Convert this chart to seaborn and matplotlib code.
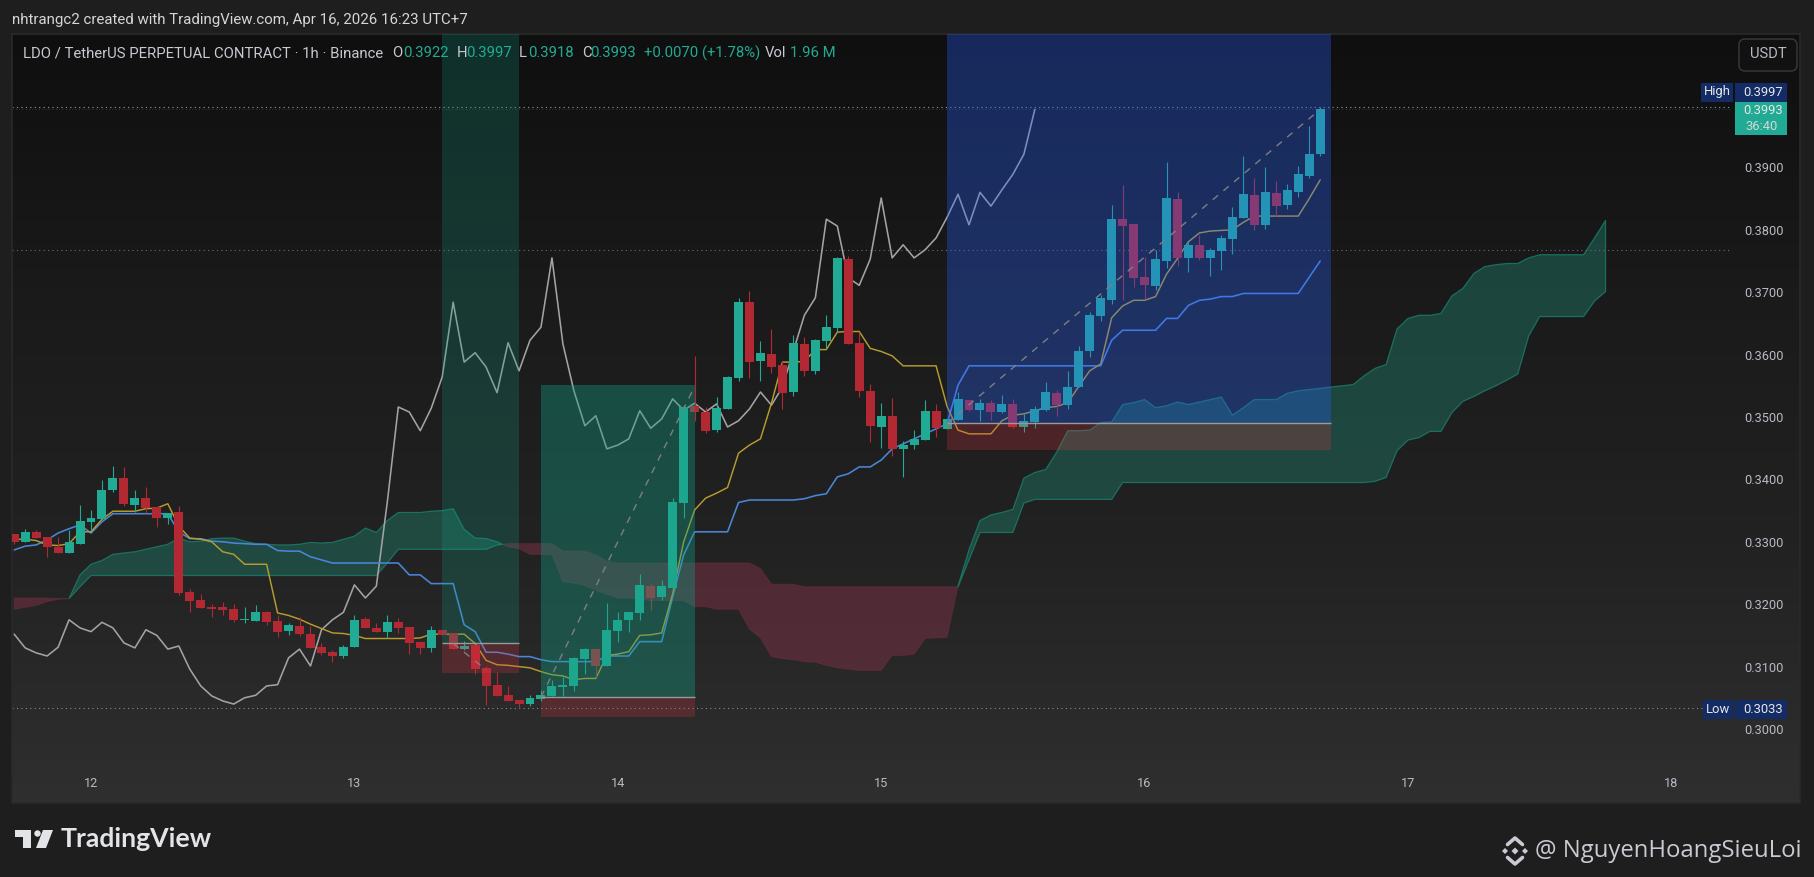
import numpy as np
import seaborn as sns
import matplotlib
matplotlib.use('Agg')
import matplotlib.pyplot as plt
from matplotlib.lines import Line2D
from matplotlib.patches import Circle, Polygon, Rectangle, FancyBboxPatch

# hourly candles, x is hours counted from the "12" day tick
hours = np.arange(-7, 113)
opens = [.3313, .3299, .3316, .3307, .3292, .3282, .3297, .3332, .3336, .3383, .3402, .3359, .3370, .3355, .3338,
         .3348, .3220, .3207, .3196, .3196, .3192, .3175, .3173, .3188, .3173, .3157, .3165, .3152, .3131, .3123,
         .3117, .3131, .3176, .3162, .3156, .3171, .3163, .3139, .3130, .3159, .3154, .3128, .3135, .3098, .3071,
         .3054, .3047, .3040, .3048, .3053, .3067, .3069, .3112, .3128, .3101, .3157, .3175, .3186, .3229, .3212,
         .3226, .3362, .3518, .3508, .3479, .3513, .3563, .3684, .3590, .3601, .3583, .3540, .3617, .3574, .3622,
         .3643, .3753, .3619, .3542, .3484, .3502, .3449, .3455, .3463, .3510, .3481, .3495, .3527, .3511, .3522,
         .3508, .3521, .3484, .3492, .3511, .3538, .3519, .3548, .3606, .3662, .3687, .3817, .3809, .3724, .3710,
         .3750, .3849, .3755, .3776, .3755, .3766, .3785, .3819, .3856, .3808, .3859, .3840, .3860, .3886, .3922]
highs = [.3313, .3320, .3319, .3307, .3308, .3319, .3359, .3351, .3399, .3422, .3420, .3383, .3388, .3355, .3346,
         .3357, .3224, .3216, .3200, .3204, .3200, .3196, .3199, .3189, .3183, .3170, .3180, .3165, .3138, .3127,
         .3135, .3183, .3180, .3170, .3183, .3178, .3163, .3139, .3165, .3159, .3154, .3141, .3135, .3101, .3091,
         .3069, .3047, .3054, .3062, .3079, .3083, .3116, .3130, .3128, .3202, .3187, .3187, .3248, .3232, .3239,
         .3370, .3519, .3598, .3516, .3532, .3566, .3691, .3702, .3622, .3641, .3590, .3631, .3628, .3625, .3664,
         .3756, .3758, .3636, .3553, .3522, .3531, .3462, .3479, .3527, .3521, .3497, .3540, .3527, .3529, .3527,
         .3535, .3529, .3505, .3518, .3556, .3543, .3574, .3614, .3668, .3695, .3840, .3872, .3809, .3756, .3768,
         .3909, .3861, .3782, .3792, .3771, .3792, .3836, .3918, .3883, .3901, .3878, .3873, .3902, .3966, .3997]
lows = [.3297, .3299, .3306, .3276, .3282, .3282, .3297, .3319, .3336, .3380, .3357, .3348, .3346, .3324, .3329,
        .3214, .3188, .3194, .3180, .3183, .3171, .3170, .3173, .3167, .3148, .3151, .3149, .3130, .3119, .3107,
        .3114, .3131, .3162, .3156, .3146, .3154, .3120, .3120, .3123, .3150, .3128, .3127, .3088, .3039, .3053,
        .3045, .3033, .3037, .3045, .3053, .3053, .3061, .3088, .3083, .3101, .3139, .3155, .3175, .3191, .3207,
        .3226, .3338, .3494, .3474, .3476, .3513, .3558, .3563, .3558, .3571, .3513, .3534, .3566, .3569, .3609,
        .3636, .3617, .3532, .3460, .3450, .3438, .3404, .3449, .3463, .3468, .3481, .3495, .3509, .3494, .3495,
        .3506, .3482, .3476, .3482, .3510, .3502, .3513, .3548, .3596, .3654, .3681, .3687, .3708, .3689, .3704,
        .3739, .3742, .3732, .3752, .3726, .3736, .3761, .3819, .3800, .3801, .3822, .3833, .3852, .3883, .3918]
closes = [.3299, .3316, .3306, .3291, .3282, .3300, .3333, .3338, .3383, .3402, .3361, .3370, .3354, .3338, .3346,
          .3218, .3205, .3194, .3192, .3191, .3175, .3176, .3188, .3171, .3156, .3167, .3152, .3130, .3122, .3117,
          .3131, .3175, .3162, .3156, .3171, .3162, .3138, .3130, .3159, .3150, .3128, .3133, .3096, .3069, .3053,
          .3045, .3040, .3050, .3054, .3069, .3071, .3114, .3128, .3101, .3159, .3175, .3187, .3231, .3210, .3229,
          .3364, .3516, .3508, .3478, .3514, .3564, .3684, .3588, .3603, .3580, .3539, .3619, .3574, .3623, .3644,
          .3755, .3617, .3542, .3486, .3502, .3449, .3455, .3465, .3510, .3482, .3497, .3529, .3511, .3522, .3508,
          .3521, .3484, .3494, .3513, .3540, .3519, .3548, .3606, .3663, .3691, .3817, .3806, .3723, .3711, .3753,
          .3851, .3755, .3776, .3755, .3768, .3787, .3820, .3857, .3808, .3860, .3838, .3864, .3889, .3921, .3993]

# ichimoku lines
tenkan = [.3304, .3304, .3302, .3295, .3294, .3297, .3316, .3316, .3336, .3349, .3349, .3349, .3353, .3354, .3361,
          .3325, .3306, .3304, .3300, .3284, .3280, .3264, .3264, .3264, .3186, .3182, .3176, .3168, .3161, .3154,
          .3153, .3150, .3145, .3145, .3145, .3145, .3145, .3146, .3152, .3152, .3152, .3152, .3137, .3110, .3103,
          .3102, .3100, .3098, .3092, .3087, .3085, .3079, .3081, .3081, .3118, .3120, .3124, .3150, .3151, .3154,
          .3217, .3300, .3351, .3370, .3378, .3387, .3442, .3455, .3465, .3522, .3588, .3588, .3589, .3608, .3608,
          .3636, .3637, .3637, .3610, .3605, .3598, .3582, .3582, .3582, .3582, .3517, .3479, .3473, .3473, .3473,
          .3494, .3503, .3505, .3510, .3515, .3517, .3523, .3549, .3574, .3585, .3659, .3678, .3687, .3687, .3693,
          .3729, .3754, .3781, .3795, .3798, .3799, .3800, .3812, .3822, .3822, .3822, .3822, .3822, .3850, .3880]
kijun = [.3287, .3293, .3295, .3303, .3314, .3321, .3327, .3314, .3332, .3345, .3345, .3345, .3345, .3345, .3345,
         .3316, .3305, .3305, .3301, .3300, .3298, .3297, .3296, .3296, .3286, .3285, .3285, .3276, .3271, .3266,
         .3266, .3266, .3266, .3266, .3266, .3266, .3247, .3247, .3233, .3233, .3233, .3167, .3156, .3123, .3123,
         .3120, .3116, .3116, .3111, .3108, .3108, .3108, .3108, .3108, .3117, .3117, .3117, .3140, .3140, .3140,
         .3212, .3279, .3316, .3316, .3316, .3316, .3363, .3367, .3367, .3367, .3367, .3367, .3369, .3374, .3377,
         .3404, .3409, .3420, .3420, .3431, .3449, .3457, .3465, .3473, .3481, .3489, .3551, .3582, .3582, .3582,
         .3582, .3582, .3582, .3582, .3582, .3582, .3582, .3582, .3582, .3582, .3623, .3639, .3639, .3639, .3639,
         .3658, .3658, .3679, .3687, .3689, .3693, .3693, .3698, .3698, .3698, .3698, .3698, .3698, .3724, .3750]
lag_hours = np.arange(-7, 87)
lagging = [.3152, .3130, .3122, .3117, .3131, .3175, .3162, .3156, .3171, .3162, .3138, .3130, .3159, .3150, .3128,
           .3133, .3096, .3069, .3053, .3045, .3040, .3050, .3054, .3069, .3071, .3114, .3128, .3101, .3159, .3175,
           .3187, .3231, .3210, .3229, .3364, .3516, .3508, .3478, .3514, .3564, .3684, .3588, .3603, .3580, .3539,
           .3619, .3574, .3623, .3644, .3755, .3617, .3542, .3486, .3502, .3449, .3455, .3465, .3510, .3482, .3497,
           .3529, .3511, .3522, .3508, .3521, .3484, .3494, .3513, .3540, .3519, .3548, .3606, .3663, .3691, .3817,
           .3806, .3723, .3711, .3753, .3851, .3755, .3776, .3755, .3768, .3787, .3820, .3857, .3808, .3860, .3838,
           .3864, .3889, .3921, .3993]

# cloud runs 26 hours past the last candle
cloud_hours = np.arange(-7, 139)
span_a = [.3192, .3195, .3198, .3204, .3208, .3209, .3247, .3264, .3270, .3280, .3282, .3284, .3288, .3292, .3296,
          .3306, .3300, .3301, .3305, .3306, .3306, .3301, .3297, .3296, .3295, .3295, .3296, .3299, .3298, .3299,
          .3304, .3309, .3322, .3315, .3334, .3347, .3347, .3347, .3349, .3350, .3353, .3320, .3306, .3305, .3300,
          .3292, .3289, .3280, .3280, .3280, .3236, .3234, .3230, .3222, .3216, .3210, .3210, .3208, .3206, .3206,
          .3206, .3206, .3196, .3196, .3192, .3192, .3192, .3160, .3146, .3116, .3113, .3111, .3108, .3107, .3102,
          .3098, .3096, .3094, .3094, .3094, .3118, .3118, .3120, .3145, .3146, .3147, .3229, .3287, .3334, .3343,
          .3347, .3352, .3402, .3411, .3416, .3444, .3478, .3478, .3479, .3491, .3492, .3520, .3523, .3528, .3515,
          .3518, .3524, .3520, .3524, .3528, .3532, .3503, .3515, .3528, .3528, .3528, .3538, .3542, .3544, .3546,
          .3548, .3550, .3552, .3566, .3578, .3584, .3641, .3658, .3663, .3663, .3666, .3694, .3706, .3730, .3741,
          .3744, .3746, .3746, .3755, .3760, .3760, .3760, .3760, .3760, .3787, .3815]
span_b = [.3210, .3210, .3210, .3210, .3209, .3209, .3228, .3246, .3246, .3246, .3246, .3246, .3246, .3246, .3246,
          .3246, .3246, .3246, .3246, .3246, .3246, .3246, .3246, .3246, .3246, .3246, .3246, .3246, .3246, .3246,
          .3246, .3246, .3246, .3246, .3266, .3288, .3288, .3288, .3288, .3288, .3288, .3288, .3288, .3288, .3295,
          .3297, .3297, .3297, .3297, .3297, .3285, .3285, .3285, .3279, .3269, .3266, .3266, .3266, .3266, .3266,
          .3266, .3266, .3266, .3266, .3266, .3266, .3266, .3266, .3257, .3232, .3232, .3232, .3228, .3228, .3228,
          .3228, .3228, .3228, .3228, .3228, .3228, .3228, .3228, .3228, .3228, .3228, .3228, .3271, .3315, .3315,
          .3315, .3315, .3362, .3368, .3368, .3368, .3368, .3368, .3368, .3368, .3368, .3395, .3395, .3395, .3395,
          .3395, .3395, .3395, .3395, .3395, .3395, .3395, .3395, .3395, .3395, .3395, .3395, .3395, .3395, .3395,
          .3395, .3395, .3395, .3395, .3397, .3403, .3446, .3463, .3467, .3477, .3477, .3507, .3525, .3533, .3542,
          .3550, .3559, .3569, .3630, .3661, .3661, .3661, .3661, .3661, .3686, .3701]

# axis ticks
day_ticks = [0, 24, 48, 72, 96, 120, 144]
day_labels = ['12', '13', '14', '15', '16', '17', '18']
price_ticks = [.30, .31, .32, .33, .34, .35, .36, .37, .38, .39]

# position tools: start hour, end hour, target, entry, stop
tools = [(32, 39, .4114, .3138, .3089, '#12a085', .23),
         (41, 55, .3551, .3051, .3020, '#12a085', .37),
         (78, 113, .4114, .3490, .3447, '#2962ff', .32)]
# dashed trade paths: hour from, hour to, price from, price to
paths = [(33, 36, .3137, .3095), (41, 55, .3051, .3549), (78, 112, .3490, .3993)]

level_high = .3997
level_low = .3033
level_close = .3993
level_mid = .3767

UP = '#22ab94'
DOWN = '#b22833'
TEXT = '#b8bac4'
W, H = 1814, 877

sns.set_theme(style='dark', rc={'axes.facecolor': '#1a1a1a', 'figure.facecolor': '#1e1e1e'})
plt.rcParams['font.family'] = ['Roboto', 'DejaVu Sans']

fig = plt.figure(figsize=(W / 100, H / 100), dpi=100)
ax = fig.add_axes([12 / W, (H - 803) / H, (1800 - 12) / W, (803 - 34) / H])


def fx(x):
    return x / W


def fy(y):
    return 1 - y / H


# background gradient of the pane
grad_cmap = sns.blend_palette(['#0f0f0f', '#1a1a1a', '#222222', '#2f2f2f'], as_cmap=True)
ax.imshow(np.linspace(0, 1, 256).reshape(-1, 1), aspect='auto', extent=[0, 1, 0, 1],
          transform=ax.transAxes, cmap=grad_cmap, zorder=0)

# cloud
span_a = np.array(span_a)
span_b = np.array(span_b)
ax.fill_between(cloud_hours, span_a, span_b, where=span_a >= span_b, interpolate=True,
                facecolor=(0.122, 0.478, 0.408, 0.45), edgecolor=(0.1, 0.5, 0.42, 0.8), linewidth=0.9, zorder=1)
ax.fill_between(cloud_hours, span_a, span_b, where=span_a < span_b, interpolate=True,
                facecolor=(0.525, 0.196, 0.282, 0.45), edgecolor=(0.45, 0.18, 0.24, 0.5), linewidth=0.7, zorder=1)

# horizontal levels
dots = (0, (1, 3))
ax.hlines(level_close, -7.2, 149.5, color='#22ab94', lw=0.6, alpha=0.5, linestyles=[dots], zorder=2)
ax.hlines(level_high, -7.2, 149.5, color='#999999', lw=0.8, linestyles=[dots], zorder=2)
ax.hlines(level_mid, -7.2, 149.5, color='#6e6e6e', lw=0.8, linestyles=[dots], zorder=2)
ax.hlines(level_low, -7.2, 146.8, color='#8c8c8c', lw=0.8, linestyles=[dots], zorder=2)

# indicator lines
sns.lineplot(x=lag_hours, y=lagging, color='#a3a3a3', lw=1.15, estimator=None, errorbar=None, ax=ax, zorder=3)
sns.lineplot(x=hours, y=kijun, color='#4a86d8', lw=1.15, estimator=None, errorbar=None, ax=ax, zorder=3)
sns.lineplot(x=hours, y=tenkan, color='#b89c2e', lw=1.05, estimator=None, errorbar=None, ax=ax, zorder=3)

# candles
opens = np.array(opens)
closes = np.array(closes)
colors = np.where(closes >= opens, UP, DOWN)
ax.vlines(hours, lows, highs, colors=colors, lw=0.8, zorder=4)
ax.bar(hours, np.abs(closes - opens), bottom=np.minimum(opens, closes), width=0.82, color=colors,
       linewidth=0, zorder=4)

# position tools on top of everything
for x0, x1, target, entry, stop, col, alpha in tools:
    ax.add_patch(Rectangle((x0, entry), x1 - x0, target - entry, facecolor=col, alpha=alpha, lw=0, zorder=5))
    ax.add_patch(Rectangle((x0, stop), x1 - x0, entry - stop, facecolor='#f23645', alpha=0.22, lw=0, zorder=5))
    ax.hlines(entry, x0, x1, color='#9a9a9a', lw=1.0, zorder=6)
for x0, x1, y0, y1 in paths:
    ax.plot([x0, x1], [y0, y1], color='#7f7f7f', lw=1.0, ls=(0, (5, 5)), zorder=6)

ax.set_xlim((12 - 91) / 10.975, (1800 - 91) / 10.975)
ax.set_ylim(.3 + (729 - 803) / 6240, .3 + (729 - 34) / 6240)
ax.set_xlabel('')
ax.set_ylabel('')
ax.grid(False)

# ticks sit inside the pane like the TradingView scales
ax.set_xticks(day_ticks, day_labels)
ax.yaxis.tick_right()
ax.set_yticks(price_ticks, ['%.4f' % p for p in price_ticks])
ax.tick_params(axis='x', length=0, pad=-19, labelsize=9.2, labelcolor=TEXT)
ax.tick_params(axis='y', length=0, pad=-40, labelsize=9.2, labelcolor=TEXT)
for side in ax.spines.values():
    side.set_color('#2a2a2a')
    side.set_linewidth(1.2)

# top texts
fig.text(fx(12), fy(20), 'nhtrangc2 created with TradingView.com, Apr 16, 2026 16:23 UTC+7',
         color='#d6d6d6', fontsize=10.8, va='center')
fig.text(fx(23), fy(53), 'LDO / TetherUS PERPETUAL CONTRACT · 1h · Binance', color='#c8c9d2', fontsize=10.7, va='center')
legend_bits = [(392, 'O', '#c8c9d2'), (403, '0.3922', UP), (457, 'H', '#c8c9d2'), (466, '0.3997', UP),
               (519, 'L', '#c8c9d2'), (528, '0.3918', UP), (582, 'C', '#c8c9d2'), (590, '0.3993', UP),
               (644, '+0.0070 (+1.78%)', UP), (765, 'Vol', '#c8c9d2'), (790, '1.96 M', UP)]
for x, s, col in legend_bits:
    fig.text(fx(x), fy(53), s, color=col, fontsize=10.7, va='center')


def box(x0, y0, x1, y1, col):
    fig.add_artist(Rectangle((fx(x0), fy(y1)), (x1 - x0) / W, (y1 - y0) / H, facecolor=col, lw=0,
                             transform=fig.transFigure, zorder=7))


# right scale labels
NAVY = '#142c66'
box(1701, 83, 1733, 102, NAVY)
box(1735, 83, 1787, 102, NAVY)
box(1735, 102, 1787, 135, UP)
box(1703, 700, 1733, 719, NAVY)
box(1735, 700, 1787, 719, NAVY)
fig.text(fx(1717), fy(92), 'High', color='#e6e6e6', fontsize=9.4, ha='center', va='center', zorder=8)
fig.text(fx(1783), fy(92.5), '0.3997', color='#e6e6e6', fontsize=9.4, ha='right', va='center', zorder=8)
fig.text(fx(1783), fy(110.5), '0.3993', color='#e6e6e6', fontsize=9.4, ha='right', va='center', zorder=8)
fig.text(fx(1745), fy(126), '36:40', color='#d5d5d5', fontsize=9.4, va='center', zorder=8)
fig.text(fx(1718), fy(709.5), 'Low', color='#e6e6e6', fontsize=9.4, ha='center', va='center', zorder=8)
fig.text(fx(1783), fy(709.5), '0.3033', color='#e6e6e6', fontsize=9.4, ha='right', va='center', zorder=8)

# USDT button
fig.add_artist(FancyBboxPatch((1739 / 100, (H - 71) / 100), 0.58, 0.32, boxstyle='round,pad=0,rounding_size=0.06',
                              facecolor='#111111', edgecolor='#3a3a3a', lw=1,
                              transform=fig.dpi_scale_trans, zorder=7))
fig.text(fx(1768), fy(54.5), 'USDT', color=TEXT, fontsize=10.6, ha='center', va='center', zorder=8)

# TradingView logo
LOGO = '#e3e4e8'
fig.add_artist(Polygon([(fx(15), fy(830)), (fx(31), fy(830)), (fx(31), fy(848)), (fx(23), fy(848)),
                        (fx(23), fy(837)), (fx(15), fy(837))], facecolor=LOGO, lw=0, transform=fig.transFigure))
fig.add_artist(Polygon([(fx(43), fy(830)), (fx(53), fy(830)), (fx(46), fy(848)), (fx(36), fy(848))],
                       facecolor=LOGO, lw=0, transform=fig.transFigure))
fig.add_artist(Circle((37.5 / 100, (H - 833.5) / 100), 0.032, facecolor=LOGO, lw=0, transform=fig.dpi_scale_trans))
fig.text(fx(61), fy(839), 'TradingView', color=LOGO, fontsize=19.2, fontweight='bold',
         family=['Lato', 'DejaVu Sans'], va='center')

# Binance badge and handle
cx, cy = 1515, 851
WM = '#c9cad2'
fig.add_artist(Polygon([(fx(cx - 3.5), fy(cy)), (fx(cx), fy(cy - 3.5)), (fx(cx + 3.5), fy(cy)), (fx(cx), fy(cy + 3.5))],
                       facecolor=WM, lw=0, transform=fig.transFigure))
for sx in (-1, 1):
    fig.add_artist(Polygon([(fx(cx + sx * 13), fy(cy)), (fx(cx + sx * 10), fy(cy - 3)), (fx(cx + sx * 7), fy(cy)),
                            (fx(cx + sx * 10), fy(cy + 3))], facecolor=WM, lw=0, transform=fig.transFigure))
    fig.add_artist(Line2D([fx(cx - 7.5), fx(cx), fx(cx + 7.5)],
                          [fy(cy - sx * 6.5), fy(cy - sx * 13), fy(cy - sx * 6.5)], color=WM, lw=2.6,
                          transform=fig.transFigure))
fig.text(fx(1535), fy(851), '@ NguyenHoangSieuLoi', color=WM, fontsize=17.2,
         family=['Open Sans', 'DejaVu Sans'], va='center')

fig.savefig('out.png', dpi=100, facecolor=fig.get_facecolor())
